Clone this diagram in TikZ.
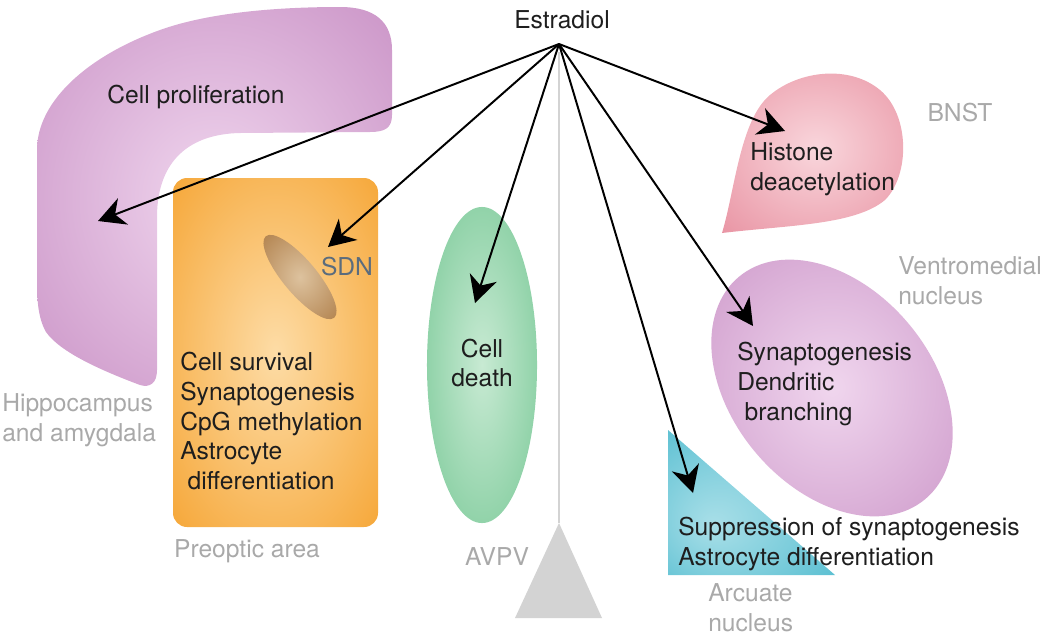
\documentclass[tikz,border=0pt]{standalone}
\usepackage{fontspec}
\setmainfont{TeX Gyre Heros}
\usetikzlibrary{arrows.meta}
\definecolor{purpin}{HTML}{F0D6EE}
\definecolor{purpout}{HTML}{C58AC1}
\definecolor{orin}{HTML}{FDDCA6}
\definecolor{orout}{HTML}{F5A12C}
\definecolor{sdnin}{HTML}{DDC29E}
\definecolor{sdnout}{HTML}{A8743C}
\definecolor{grin}{HTML}{C8EAD3}
\definecolor{grout}{HTML}{6CC38D}
\definecolor{pkin}{HTML}{F9D6DC}
\definecolor{pkout}{HTML}{E6899A}
\definecolor{cyin}{HTML}{A9DFE8}
\definecolor{cyout}{HTML}{55BDD0}
\definecolor{lbl}{HTML}{A9A9A9}
\definecolor{sdnlbl}{HTML}{5B6C7D}
\definecolor{txt}{HTML}{1E1E1E}
\definecolor{axisgray}{HTML}{D3D3D3}
\pgfdeclareradialshading{purpshade}{\pgfpoint{0bp}{0bp}}{color(0bp)=(purpin); color(42bp)=(purpout); color(50bp)=(purpout)}
\pgfdeclareradialshading{orshade}{\pgfpoint{0bp}{0bp}}{color(0bp)=(orin); color(40bp)=(orout); color(50bp)=(orout)}
\pgfdeclareradialshading{sdnshade}{\pgfpoint{0bp}{0bp}}{color(0bp)=(sdnin); color(40bp)=(sdnout); color(50bp)=(sdnout)}
\pgfdeclareradialshading{grshade}{\pgfpoint{0bp}{0bp}}{color(0bp)=(grin); color(42bp)=(grout); color(50bp)=(grout)}
\pgfdeclareradialshading{pkshade}{\pgfpoint{0bp}{0bp}}{color(0bp)=(pkin); color(42bp)=(pkout); color(50bp)=(pkout)}
\pgfdeclareradialshading{cyshade}{\pgfpoint{-12bp}{-8bp}}{color(0bp)=(cyin); color(40bp)=(cyout); color(50bp)=(cyout)}
\tikzset{
  arr/.style={draw=black, line width=1.4pt, -{Stealth[length=19pt,width=20pt,inset=6pt]}},
  body/.style={font=\fontsize{17.5}{21.3}\selectfont, text=txt, inner sep=0pt, align=left},
  region/.style={font=\fontsize{17.5}{21.3}\selectfont, text=lbl, inner sep=0pt, align=left},
}
\begin{document}
\begin{tikzpicture}[x=0.025cm, y=-0.025cm]
\useasboundingbox (0,0) rectangle (1050,639);
% hippocampus and amygdala
\shade[shading=purpshade] (157,215) -- (157,370) .. controls (157,383) and (150,388) .. (140,385)
  .. controls (100,370) and (60,352) .. (46,332) .. controls (38,318) and (37,300) .. (37,280)
  -- (37,150) .. controls (37,100) and (90,55) .. (160,30)
  .. controls (210,12) and (280,7) .. (340,7) .. controls (375,7) and (392,22) .. (392,50)
  -- (392,115) .. controls (392,128) and (385,132) .. (370,132) -- (240,133)
  .. controls (190,134) and (158,160) .. cycle;
% preoptic area
\shade[shading=orshade, rounded corners=10pt] (173,178) rectangle (378,527);
% SDN
\begin{scope}[shift={(300,277)}, rotate=-50]
\shade[shading=sdnshade] (0,0) ellipse [x radius=1.33cm, y radius=0.42cm];
\end{scope}
% AVPV
\shade[shading=grshade] (482,365) ellipse [x radius=1.375cm, y radius=3.95cm];
% BNST
\shade[shading=pkshade] (722,233) .. controls (735,190) and (740,120) .. (770,95)
  .. controls (800,70) and (850,65) .. (880,90) .. controls (910,115) and (910,175) .. (885,200)
  .. controls (855,225) and (790,225) .. cycle;
% ventromedial nucleus
\begin{scope}[shift={(832,388)}, rotate=-50]
\shade[shading=purpshade] (0,0) ellipse [x radius=3.625cm, y radius=2.5cm];
\end{scope}
% arcuate nucleus
\shade[shading=cyshade] (668,430) -- (668,575) -- (835,575) -- cycle;
% midline axis
\coordinate (E) at (559,44);
\coordinate (axtop) at (559,52);
\coordinate (axbot) at (559,523);
\draw[axisgray, line width=1.2pt] (axtop) -- (axbot);
\fill[axisgray] (axbot) -- (602,618) -- (515,618) -- cycle;
% arrow tips
\coordinate (t1) at (98,221);
\coordinate (t2) at (328,247);
\coordinate (t3) at (475,303);
\coordinate (t4) at (753,326);
\coordinate (t5) at (693,493);
\coordinate (t6) at (785,131);
\foreach \t in {t1,t2,t3,t4,t5,t6} \draw[arr] (E) -- (\t);
% texts
\node[body] (est) at (562,20) {Estradiol};
\node[body] (prolif) at (196,97) {Cell proliferation};
\node[body, anchor=west] (poatext) at (180,421) {Cell survival\\Synaptogenesis\\CpG methylation\\Astrocyte\\\hspace{0.3em}differentiation};
\node[region, text=sdnlbl] (sdn) at (347,267) {SDN};
\node[region, anchor=west] (hip) at (2,420) {Hippocampus\\and amygdala};
\node[region] (poa) at (247,551) {Preoptic area};
\node[body, align=center] (death) at (482,363) {Cell\\death};
\node[region] (avpv) at (497,557) {AVPV};
\node[body, anchor=west] (hist) at (750,169) {Histone\\deacetylation};
\node[region] (bnst) at (960,113) {BNST};
\node[region, anchor=west] (vmn) at (898,281) {Ventromedial\\nucleus};
\node[body, anchor=west] (vmntext) at (737,384) {Synaptogenesis\\Dendritic\\\hspace{0.3em}branching};
\node[body, anchor=west] (arctext) at (678,544) {Suppression of synaptogenesis\\Astrocyte differentiation};
\node[region, anchor=west] (arc) at (708,608) {Arcuate\\nucleus};
\end{tikzpicture}
\end{document}
